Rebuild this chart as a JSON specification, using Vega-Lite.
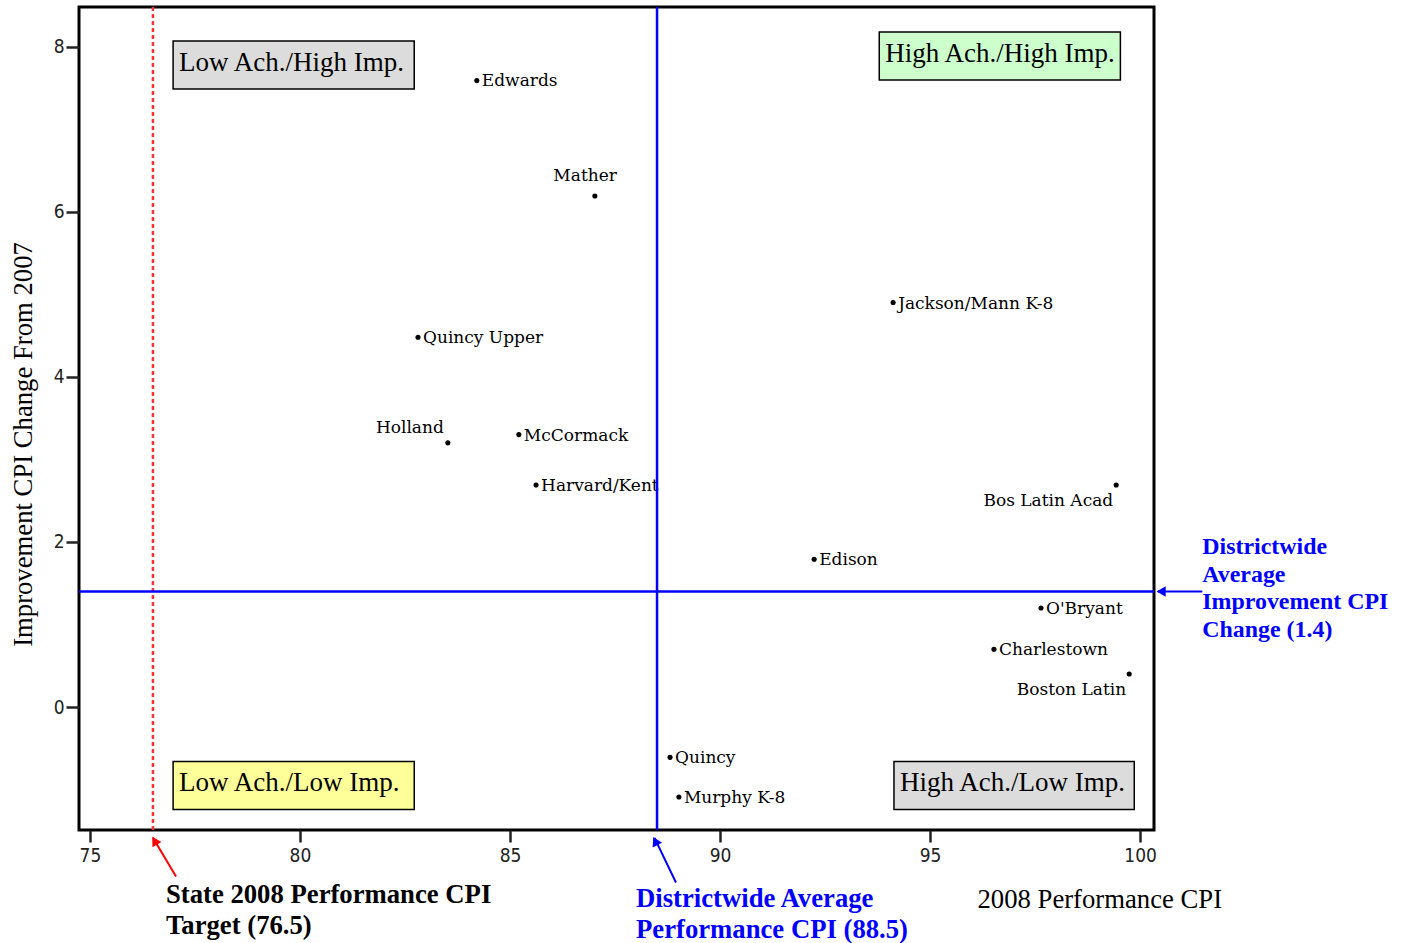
{
  "$schema": "https://vega.github.io/schema/vega-lite/v6.json",
  "width": 1075,
  "height": 823,
  "autosize": {"type": "none"},
  "padding": {"left": 79, "top": 7, "right": 253, "bottom": 113},
  "background": "white",
  "config": {
    "view": {"stroke": "#000", "strokeWidth": 3},
    "axis": {"grid": false, "domain": false, "tickColor": "#222", "tickWidth": 2.5, "labelFont": "DejaVu Sans Condensed, DejaVu Sans", "labelFontSize": 19, "labelColor": "#222", "titleFont": "Liberation Serif", "titleFontSize": 26.7, "titleFontWeight": "normal", "titleColor": "#000"}
  },
  "resolve": {"axis": {"x": "independent", "y": "independent"}},
  "datasets": {
    "schools": [
      {"school": "Edwards", "cpi": 84.21, "change": 7.59},
      {"school": "Mather", "cpi": 87.02, "change": 6.19},
      {"school": "Jackson/Mann K-8", "cpi": 94.12, "change": 4.90},
      {"school": "Quincy Upper", "cpi": 82.81, "change": 4.48},
      {"school": "Holland", "cpi": 83.52, "change": 3.20},
      {"school": "McCormack", "cpi": 85.21, "change": 3.30},
      {"school": "Harvard/Kent", "cpi": 85.62, "change": 2.69},
      {"school": "Bos Latin Acad", "cpi": 99.43, "change": 2.69},
      {"school": "Edison", "cpi": 92.24, "change": 1.79},
      {"school": "O'Bryant", "cpi": 97.64, "change": 1.20},
      {"school": "Charlestown", "cpi": 96.52, "change": 0.70},
      {"school": "Boston Latin", "cpi": 99.74, "change": 0.40},
      {"school": "Quincy", "cpi": 88.81, "change": -0.61},
      {"school": "Murphy K-8", "cpi": 89.02, "change": -1.09}
    ],
    "quadrants": [
      {"label": "Low Ach./High Imp.", "kind": "gray", "x1": 76.98, "x2": 82.72, "y1": 8.068, "y2": 7.486},
      {"label": "High Ach./High Imp.", "kind": "green", "x1": 93.79, "x2": 99.53, "y1": 8.177, "y2": 7.595},
      {"label": "Low Ach./Low Imp.", "kind": "yellow", "x1": 76.98, "x2": 82.72, "y1": -0.659, "y2": -1.241},
      {"label": "High Ach./Low Imp.", "kind": "gray", "x1": 94.14, "x2": 99.86, "y1": -0.659, "y2": -1.241}
    ],
    "stateTarget": [{"cpi": 76.5}],
    "districtCpi": [{"cpi": 88.5}],
    "districtChange": [{"change": 1.4}],
    "redArrow": [{"x": 77.05, "y": -2.053, "x2": 76.5, "y2": -1.585, "hx": 76.54, "hy": -1.62}],
    "blueArrowBottom": [{"x": 88.95, "y": -2.126, "x2": 88.44, "y2": -1.585, "hx": 88.459, "hy": -1.623}],
    "blueArrowRight": [{"x": 101.48, "y": 1.4, "x2": 100.42, "y2": 1.4, "hx": 100.5, "hy": 1.4}],
    "notes": [
      {"note": "state", "text": ["State 2008 Performance CPI", "Target (76.5)"], "x": 76.81, "y": -2.12},
      {"note": "districtCpi", "text": ["Districtwide Average", "Performance CPI (88.5)"], "x": 88.0, "y": -2.17},
      {"note": "districtChange", "text": ["Districtwide", "Average", "Improvement CPI", "Change (1.4)"], "x": 101.48, "y": 2.085}
    ]
  },
  "layer": [
    {
      "data": {"name": "quadrants"},
      "mark": {"type": "rect", "stroke": "#000", "strokeWidth": 1.5},
      "encoding": {
        "x": {"field": "x1", "type": "quantitative", "scale": {"domain": [74.74, 100.33], "nice": false, "zero": false},
          "axis": {"title": "2008 Performance CPI", "values": [75, 80, 85, 90, 95, 100], "tickSize": 12, "labelPadding": 4, "labelFontSize": 19, "titleX": 898, "titleY": 77, "titleAlign": "left", "titleBaseline": "alphabetic", "titleAnchor": "start"}},
        "x2": {"field": "x2"},
        "y": {"field": "y1", "type": "quantitative", "scale": {"domain": [-1.49, 8.48], "nice": false, "zero": false},
          "axis": {"title": "Improvement CPI Change From 2007", "values": [0, 2, 4, 6, 8], "tickSize": 13, "labelPadding": 2, "labelFontSize": 19, "titleX": -48, "titleY": 437, "titleAlign": "center", "titleBaseline": "alphabetic", "titleAngle": 270}},
        "y2": {"field": "y2"},
        "fill": {"field": "kind", "type": "nominal", "scale": {"domain": ["gray", "green", "yellow"], "range": ["#dcdcdc", "#ccffcc", "#ffff99"]}, "legend": null}
      }
    },
    {
      "data": {"name": "quadrants"},
      "mark": {"type": "text", "font": "Liberation Serif", "fontSize": 27, "align": "left", "baseline": "middle", "dx": 6, "dy": 22, "color": "#000"},
      "encoding": {
        "x": {"field": "x1", "type": "quantitative", "axis": null},
        "y": {"field": "y1", "type": "quantitative", "axis": null},
        "text": {"field": "label"}
      }
    },
    {
      "data": {"name": "schools"},
      "mark": {"type": "circle", "size": 26, "color": "#000", "opacity": 1},
      "encoding": {
        "x": {"field": "cpi", "type": "quantitative", "axis": null},
        "y": {"field": "change", "type": "quantitative", "axis": null}
      }
    },
    {
      "data": {"name": "schools"},
      "transform": [{"filter": "indexof(['Holland','Mather','Bos Latin Acad','Boston Latin'], datum.school) < 0"}],
      "mark": {"type": "text", "font": "DejaVu Serif", "fontSize": 17, "align": "left", "baseline": "middle", "dx": 5, "dy": 1, "color": "#000"},
      "encoding": {
        "x": {"field": "cpi", "type": "quantitative", "axis": null},
        "y": {"field": "change", "type": "quantitative", "axis": null},
        "text": {"field": "school"}
      }
    },
    {
      "data": {"name": "schools"},
      "transform": [{"filter": "datum.school === 'Holland'"}],
      "mark": {"type": "text", "font": "DejaVu Serif", "fontSize": 17, "align": "right", "baseline": "middle", "dx": -4, "dy": -15, "color": "#000"},
      "encoding": {
        "x": {"field": "cpi", "type": "quantitative", "axis": null},
        "y": {"field": "change", "type": "quantitative", "axis": null},
        "text": {"field": "school"}
      }
    },
    {
      "data": {"name": "schools"},
      "transform": [{"filter": "datum.school === 'Mather'"}],
      "mark": {"type": "text", "font": "DejaVu Serif", "fontSize": 17, "align": "right", "baseline": "middle", "dx": 22, "dy": -20, "color": "#000"},
      "encoding": {
        "x": {"field": "cpi", "type": "quantitative", "axis": null},
        "y": {"field": "change", "type": "quantitative", "axis": null},
        "text": {"field": "school"}
      }
    },
    {
      "data": {"name": "schools"},
      "transform": [{"filter": "datum.school === 'Bos Latin Acad' || datum.school === 'Boston Latin'"}],
      "mark": {"type": "text", "font": "DejaVu Serif", "fontSize": 17, "align": "right", "baseline": "middle", "dx": -3, "dy": 16, "color": "#000"},
      "encoding": {
        "x": {"field": "cpi", "type": "quantitative", "axis": null},
        "y": {"field": "change", "type": "quantitative", "axis": null},
        "text": {"field": "school"}
      }
    },
    {
      "data": {"name": "stateTarget"},
      "mark": {"type": "rule", "color": "#ff3333", "strokeWidth": 2.5, "strokeDash": [4, 3]},
      "encoding": {"x": {"field": "cpi", "type": "quantitative", "axis": null}}
    },
    {
      "data": {"name": "districtCpi"},
      "mark": {"type": "rule", "color": "#0000ff", "strokeWidth": 2.5},
      "encoding": {"x": {"field": "cpi", "type": "quantitative", "axis": null}}
    },
    {
      "data": {"name": "districtChange"},
      "mark": {"type": "rule", "color": "#0000ff", "strokeWidth": 2.5},
      "encoding": {"y": {"field": "change", "type": "quantitative", "axis": null}}
    },
    {
      "data": {"name": "redArrow"},
      "mark": {"type": "rule", "color": "#ff0000", "strokeWidth": 2},
      "encoding": {
        "x": {"field": "x", "type": "quantitative", "axis": null},
        "y": {"field": "y", "type": "quantitative", "axis": null},
        "x2": {"field": "x2"},
        "y2": {"field": "y2"}
      }
    },
    {
      "data": {"name": "redArrow"},
      "mark": {"type": "point", "shape": "triangle-up", "filled": true, "color": "#ff0000", "size": 110, "angle": 329, "opacity": 1},
      "encoding": {
        "x": {"field": "hx", "type": "quantitative", "axis": null},
        "y": {"field": "hy", "type": "quantitative", "axis": null}
      }
    },
    {
      "data": {"name": "blueArrowBottom"},
      "mark": {"type": "rule", "color": "#0000ff", "strokeWidth": 2},
      "encoding": {
        "x": {"field": "x", "type": "quantitative", "axis": null},
        "y": {"field": "y", "type": "quantitative", "axis": null},
        "x2": {"field": "x2"},
        "y2": {"field": "y2"}
      }
    },
    {
      "data": {"name": "blueArrowBottom"},
      "mark": {"type": "point", "shape": "triangle-up", "filled": true, "color": "#0000ff", "size": 110, "angle": 333, "opacity": 1},
      "encoding": {
        "x": {"field": "hx", "type": "quantitative", "axis": null},
        "y": {"field": "hy", "type": "quantitative", "axis": null}
      }
    },
    {
      "data": {"name": "blueArrowRight"},
      "mark": {"type": "rule", "color": "#0000ff", "strokeWidth": 2},
      "encoding": {
        "x": {"field": "x", "type": "quantitative", "axis": null},
        "y": {"field": "y", "type": "quantitative", "axis": null},
        "x2": {"field": "x2"},
        "y2": {"field": "y2"}
      }
    },
    {
      "data": {"name": "blueArrowRight"},
      "mark": {"type": "point", "shape": "triangle-left", "filled": true, "color": "#0000ff", "size": 110, "opacity": 1},
      "encoding": {
        "x": {"field": "hx", "type": "quantitative", "axis": null},
        "y": {"field": "hy", "type": "quantitative", "axis": null}
      }
    },
    {
      "data": {"name": "notes"},
      "transform": [{"filter": "datum.note === 'state'"}],
      "mark": {"type": "text", "font": "Liberation Serif", "fontSize": 26.7, "fontWeight": "bold", "align": "left", "baseline": "top", "lineHeight": 31, "color": "#000"},
      "encoding": {
        "x": {"field": "x", "type": "quantitative", "axis": null},
        "y": {"field": "y", "type": "quantitative", "axis": null},
        "text": {"field": "text"}
      }
    },
    {
      "data": {"name": "notes"},
      "transform": [{"filter": "datum.note === 'districtCpi'"}],
      "mark": {"type": "text", "font": "Liberation Serif", "fontSize": 26.7, "fontWeight": "bold", "align": "left", "baseline": "top", "lineHeight": 31, "color": "#0000ff"},
      "encoding": {
        "x": {"field": "x", "type": "quantitative", "axis": null},
        "y": {"field": "y", "type": "quantitative", "axis": null},
        "text": {"field": "text"}
      }
    },
    {
      "data": {"name": "notes"},
      "transform": [{"filter": "datum.note === 'districtChange'"}],
      "mark": {"type": "text", "font": "Liberation Serif", "fontSize": 23.9, "fontWeight": "bold", "align": "left", "baseline": "top", "lineHeight": 27.7, "color": "#0000ff"},
      "encoding": {
        "x": {"field": "x", "type": "quantitative", "axis": null},
        "y": {"field": "y", "type": "quantitative", "axis": null},
        "text": {"field": "text"}
      }
    }
  ]
}
